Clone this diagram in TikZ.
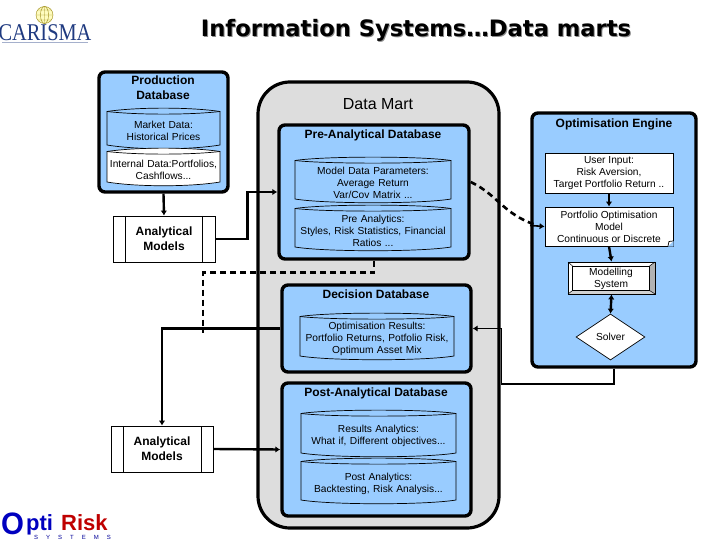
\documentclass[tikz,border=0pt]{standalone}
\usepackage{graphicx}
\usepackage{fontspec}
\setmainfont{Liberation Sans}
\newfontfamily\titlefont{DejaVu Sans}
\newfontfamily\logofont{Liberation Serif}
\usetikzlibrary{arrows.meta,shapes.geometric}
\definecolor{skyb}{HTML}{99CCFF}
\definecolor{martg}{HTML}{DDDDDD}
\definecolor{navyl}{HTML}{1F3A80}
\newcommand{\bx}[7]{% name x1 y1 x2 y2 style text
  \pgfmathsetmacro{\cxx}{(#2+#4)/2}\pgfmathsetmacro{\cyy}{(#3+#5)/2}
  \pgfmathsetmacro{\wdd}{#4-#2}\pgfmathsetmacro{\htt}{#5-#3}
  \node[#6,minimum width=\wdd pt,minimum height=\htt pt] (#1) at (\cxx,\cyy) {#7};}
\newcommand{\cyl}[7]{% name x1 y1 x2 y2 fill text
  \pgfmathsetmacro{\cxx}{(#2+#4)/2}\pgfmathsetmacro{\rxx}{(#4-#2)/2}
  \pgfmathsetmacro{\wdd}{#4-#2}\pgfmathsetmacro{\htt}{#5-#3}\pgfmathsetmacro{\cyy}{(#3+#5)/2+3}
  \draw[line width=.7pt,fill=#6] (#2,#3+3.5) .. controls (#2+30,#3-1) and (#4-30,#3-1) .. (#4,#3+3.5)
     -- (#4,#5-3) .. controls (#4-30,#5+2) and (#2+30,#5+2) .. (#2,#5-3) -- cycle;
  \draw[line width=.7pt] (#2,#3+3.5) .. controls (#2+30,#3+7) and (#4-30,#3+7) .. (#4,#3+3.5);
  \node[smalltxt,text width=\wdd pt] (#1) at (\cxx,\cyy) {#7};}
\tikzset{
  smalltxt/.style={inner sep=0pt,align=center,font=\fontsize{10.2}{12}\selectfont,text=black},
  headtxt/.style={inner sep=0pt,align=center,font=\fontsize{12}{15}\selectfont\bfseries,text=black},
  panel/.style={draw=black,line width=3.4pt,fill=skyb,rounded corners=6pt,inner sep=0pt},
  martbox/.style={draw=black,line width=3.2pt,fill=martg,rounded corners=32pt,inner sep=0pt},
  whitebox/.style={draw=black,line width=.8pt,fill=white,inner sep=0pt,smalltxt},
  modelbox/.style={draw=black,line width=.8pt,fill=white,inner sep=0pt,headtxt},
  flow/.style={draw=black,line width=2.4pt,-{Latex[length=5pt,width=6.5pt]}},
  dashflow/.style={draw=black,line width=2.6pt,dash pattern=on 6pt off 4pt},
  solverbox/.style={diamond,draw=black,line width=.7pt,fill=white,inner sep=0pt,aspect=1.5,smalltxt},
}
\begin{document}
\begin{tikzpicture}[x=1pt,y=-1pt]
\useasboundingbox (0,0) rectangle (720,540);
\fill[white] (0,0) rectangle (720,540);
% title
\node[font=\titlefont\bfseries\fontsize{22.6}{26}\selectfont,text=black!45,inner sep=0pt] (titleshadow) at (417,31) {Information Systems…Data marts};
\node[font=\titlefont\bfseries\fontsize{22.6}{26}\selectfont,inner sep=0pt] (title) at (416,30) {Information Systems…Data marts};
% CARISMA logo
\begin{scope}[draw=olive!70!brown,line width=.4pt]
 \draw[fill=yellow!25] (44.5,15) circle (8.5);
 \draw (44.5,15) ellipse (4 and 8.5) (44.5,6.5) -- (44.5,23.5) (36,15) -- (53,15)
   (37.5,10) -- (51.5,10) (37.5,20) -- (51.5,20);
\end{scope}
\node[font=\logofont\fontsize{24}{24}\selectfont,text=navyl,inner sep=0pt] (carisma) at (45,33) {\scalebox{.85}[1]{CARISMA}};
\draw[navyl!40,line width=.6pt] (2,42) -- (88,42);
% OptiRisk logo
\node[font=\bfseries\fontsize{31}{31}\selectfont,text=blue!75!black,inner sep=0pt,anchor=base west] (optiO) at (1,534) {\scalebox{.95}[1]{O}};
\node[font=\bfseries\fontsize{22}{22}\selectfont,text=blue!75!black,inner sep=0pt,anchor=base west] (optipti) at (26,530) {pti};
\node[font=\bfseries\fontsize{22}{22}\selectfont,text=red!75!black,inner sep=0pt,anchor=base west] (optirisk) at (61,530) {Risk};
\node[font=\fontsize{6}{6}\selectfont,text=blue!60!black,inner sep=0pt,anchor=base west] (optisys) at (34,539.3) {S\hspace{8pt}Y\hspace{8pt}S\hspace{8pt}T\hspace{8pt}E\hspace{8pt}M\hspace{8pt}S};
% data mart
\bx{mart}{258}{82}{499}{528}{martbox}{}
\node[inner sep=0pt,font=\fontsize{16}{18}\selectfont] (martl) at (378,104) {Data Mart};
% production
\bx{prod}{99}{72}{228}{192}{panel}{}
\node[headtxt] (prodl) at (163,88) {Production\\Database};
\cyl{market}{107}{108}{220}{148}{skyb}{Market Data:\\Historical Prices}
\cyl{internal}{107}{148}{220}{185}{white}{Internal Data:Portfolios,\\Cashflows...}
% analytical 1
\bx{am1}{113}{216}{215}{262}{modelbox}{Analytical\\Models}
\draw[line width=.8pt] (125.5,216) -- (125.5,262) (202,216) -- (202,262);
% pre-analytical
\bx{pre}{279}{125}{469}{259}{panel}{}
\node[headtxt] (prel) at (373,135.5) {Pre-Analytical Database};
\cyl{model}{295}{157}{451}{202}{skyb}{Model Data Parameters:\\Average Return\\Var/Cov Matrix ...}
\cyl{prean}{295}{205}{451}{250}{skyb}{Pre Analytics:\\Styles, Risk Statistics, Financial\\Ratios ...}
% decision
\bx{dec}{282}{285}{471}{372}{panel}{}
\node[headtxt] (decl) at (376,294) {Decision Database};
\cyl{optres}{300}{313}{454}{359}{skyb}{Optimisation Results:\\Portfolio Returns, Potfolio Risk,\\Optimum Asset Mix}
% post
\bx{post}{282}{383}{471}{516}{panel}{}
\node[headtxt] (postl) at (376,393) {Post-Analytical Database};
\cyl{resan}{301}{410}{456}{456}{skyb}{Results Analytics:\\What if, Different objectives...}
\cyl{postan}{301}{458}{456}{503}{skyb}{Post Analytics:\\Backtesting, Risk Analysis...}
% analytical 2
\bx{am2}{111}{426}{213}{472}{modelbox}{Analytical\\Models}
\draw[line width=.8pt] (123,426) -- (123,472) (201.5,426) -- (201.5,472);
% optimisation engine
\bx{opt}{532}{113}{696}{367}{panel}{}
\node[headtxt] (optl) at (614,124) {Optimisation Engine};
\bx{user}{545}{153}{673}{193}{whitebox}{User Input:\\Risk Aversion,\\Target Portfolio Return ..}
\bx{port}{545}{207}{673}{246}{whitebox}{Portfolio Optimisation\\Model\\Continuous or Discrete}
\fill[skyb] (673.5,246.5) -- (673.5,241) -- (668,246.5) -- cycle;
\draw[line width=.7pt] (673,241) -- (669,241.5) -- (668,246);
\bx{modl}{568}{262}{655}{294}{whitebox}{}
\fill[gray!60] (655,262) -- (649.5,266) -- (649.5,290.5) -- (655,294) -- cycle;
\fill[gray!35] (568,294) -- (572.5,290.5) -- (649.5,290.5) -- (655,294) -- cycle;
\draw[line width=.8pt] (568,262) rectangle (655,294);
\draw[line width=.8pt] (572.5,266) rectangle (649.5,290.5);
\draw[line width=.5pt] (568,262) -- (572.5,266) (655,262) -- (649.5,266) (568,294) -- (572.5,290.5) (655,294) -- (649.5,290.5);
\node[smalltxt] (modll) at (611,279) {Modelling\\System};
\bx{solver}{576}{314}{645}{360}{solverbox}{Solver}
% connectors
\draw[flow] (prod.south) -- (am1.north);
\draw[flow] (am1.east) -- ++(32,0) |- (pre.west);
\coordinate (dashend) at (203,333);
\draw[dashflow] (pre.south) -- ++(0,12) -| (dashend);
\draw[flow] (dec.west) -| (am2.north);
\draw[flow] (am2.east) -- (post.west);
\coordinate (bendlow) at (501.5,384);
\draw[flow,line width=1.8pt] (opt.south) |- (bendlow) |- (dec.east);
\coordinate (dashstop) at (536,225);
\coordinate (tipstart) at (530,225.5);
\draw[dashflow] ([yshift=10pt]pre.east) .. controls (498,195) and (503,214) .. (dashstop);
\draw[draw=black,line width=1.6pt,-{Latex[length=5pt,width=6.5pt]}] (tipstart) -- (port.west);
\draw[flow] (user.south) -- (port.north);
\draw[flow] (port.south) -- (modl.north);
\draw[draw=black,line width=2.4pt,{Latex[length=5pt,width=6.5pt]}-{Latex[length=5pt,width=6.5pt]}] (modl.south) -- (solver.north);
\end{tikzpicture}
\end{document}
